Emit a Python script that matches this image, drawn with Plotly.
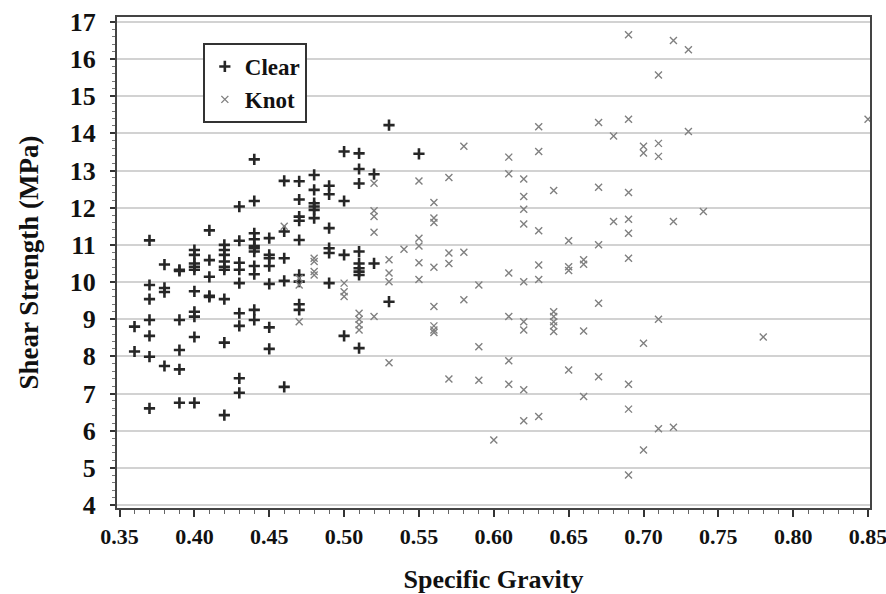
import plotly.graph_objects as go

# ---- data ----
clear_sg = (
    [0.36] * 2 + [0.37] * 7 + [0.38] * 4 + [0.39] * 6 + [0.40] * 10 + [0.41] * 5 +
    [0.42] * 9 + [0.43] * 9 + [0.44] * 11 + [0.45] * 7 + [0.46] * 5 + [0.47] * 9 +
    [0.48] * 6 + [0.49] * 6 + [0.50] * 4 + [0.51] * 9 + [0.52] * 2 + [0.53] * 2 + [0.55]
)
clear_ss = [
    8.80, 8.13,
    11.12, 9.92, 9.54, 8.98, 8.55, 7.99, 6.60,
    10.47, 9.84, 9.73, 7.74,
    10.33, 10.30, 8.98, 8.17, 7.65, 6.75,
    10.86, 10.73, 10.50, 10.41, 10.33, 9.75, 9.20, 9.07, 8.52, 6.75,
    11.39, 10.59, 10.14, 9.63, 9.60,
    11.00, 10.86, 10.73, 10.55, 10.41, 10.33, 9.54, 8.37, 6.42,
    12.03, 11.11, 10.52, 10.33, 9.97, 9.16, 8.82, 7.41, 7.02,
    13.30, 12.18, 11.31, 11.15, 10.97, 10.91, 10.82, 10.43, 10.21, 9.25, 8.98,
    11.18, 10.73, 10.64, 10.43, 9.95, 8.78, 8.20,
    12.72, 11.36, 10.64, 10.03, 7.18,
    12.71, 12.22, 11.76, 11.65, 11.13, 10.19, 10.01, 9.40, 9.25,
    12.88, 12.48, 12.12, 12.03, 11.94, 11.72,
    12.59, 12.36, 11.45, 10.91, 10.78, 9.97,
    13.51, 12.18, 10.73, 8.55,
    13.46, 13.04, 12.65, 10.82, 10.50, 10.37, 10.28, 10.19, 8.22,
    12.90, 10.50,
    14.22, 9.47,
    13.45,
]

knot_sg = (
    [0.46] + [0.47] * 3 + [0.48] * 4 + [0.50] * 3 + [0.51] * 4 + [0.52] * 5 +
    [0.53] * 4 + [0.54] + [0.55] * 5 + [0.56] * 8 + [0.57] * 4 + [0.58] * 3 +
    [0.59] * 3 + [0.60] + [0.61] * 6 + [0.62] * 9 + [0.63] * 6 + [0.64] * 6 +
    [0.65] * 4 + [0.66] * 4 + [0.67] * 5 + [0.68] * 2 + [0.69] * 9 + [0.70] * 4 +
    [0.71] * 5 + [0.72] * 3 + [0.73] * 2 + [0.74] + [0.78] + [0.85]
)
knot_ss = [
    11.50,
    10.10, 9.92, 8.93,
    10.64, 10.55, 10.28, 10.19,
    9.97, 9.74, 9.61,
    9.16, 9.00, 8.85, 8.71,
    12.66, 11.92, 11.76, 11.34, 9.07,
    10.60, 10.24, 10.01, 7.83,
    10.88,
    12.72, 11.18, 10.97, 10.52, 10.07,
    12.14, 11.72, 11.60, 10.40, 9.34, 8.82, 8.71, 8.64,
    12.81, 10.78, 10.50, 7.39,
    13.65, 10.80, 9.52,
    9.92, 8.26, 7.36,
    5.75,
    13.36, 12.91, 10.24, 9.07, 7.88, 7.25,
    12.77, 12.30, 11.96, 11.56, 10.01, 8.93, 8.71, 7.10, 6.27,
    14.18, 13.51, 11.38, 10.46, 10.07, 6.38,
    12.46, 9.20, 9.07, 8.93, 8.82, 8.67,
    11.11, 10.41, 10.31, 7.63,
    10.60, 10.48, 8.68, 6.92,
    14.29, 12.55, 11.00, 9.43, 7.45,
    13.93, 11.63,
    16.65, 14.38, 12.41, 11.69, 11.31, 10.64, 7.25, 6.58, 4.81,
    13.65, 13.47, 8.35, 5.48,
    15.57, 13.73, 13.38, 9.00, 6.05,
    16.50, 11.63, 6.09,
    16.25, 14.05,
    11.90,
    8.52,
    14.38,
]

x_ticks = [0.35, 0.40, 0.45, 0.50, 0.55, 0.60, 0.65, 0.70, 0.75, 0.80, 0.85]
y_ticks = list(range(4, 18))

SERIF = "Liberation Serif, Times New Roman, serif"

fig = go.Figure()
fig.add_trace(go.Scatter(
    x=clear_sg, y=clear_ss, mode="markers", name="Clear",
    marker=dict(symbol="cross-thin", size=8, color="#262626",
                line=dict(color="#262626", width=2.6)),
))
fig.add_trace(go.Scatter(
    x=knot_sg, y=knot_ss, mode="markers", name="Knot",
    marker=dict(symbol="x-thin", size=7, color="#808080",
                line=dict(color="#808080", width=1.4)),
))

fig.update_layout(
    width=886, height=594,
    margin=dict(l=117, r=16, t=17, b=86, autoexpand=False),
    paper_bgcolor="white", plot_bgcolor="white",
    font=dict(family=SERIF, color="#111"),
    showlegend=True,
    legend=dict(
        x=0.114, y=0.947, xanchor="left", yanchor="top",
        bgcolor="white", bordercolor="#333", borderwidth=2,
        font=dict(family=SERIF, size=23, color="#111", weight="bold"),
        tracegroupgap=4,
    ),
)

fig.update_xaxes(
    range=[0.3483, 0.8513], automargin=False,
    tickvals=x_ticks, ticktext=[f"{v:.2f}" for v in x_ticks],
    tickfont=dict(family=SERIF, size=22, color="#111", weight="bold"),
    ticks="outside", ticklen=7, tickwidth=1.5, tickcolor="#333",
    ticklabelstandoff=1, ticklabeloverflow="allow",
    minor=dict(dtick=0.01, tick0=0.35, ticks="outside", ticklen=4,
               tickcolor="#666", tickwidth=1, showgrid=False),
    showgrid=False, zeroline=False,
    showline=True, linecolor="#444", linewidth=2, mirror=True,
    title=dict(text="Specific Gravity", standoff=23,
               font=dict(family=SERIF, size=26, color="#111", weight="bold")),
)
fig.update_yaxes(
    range=[3.92, 17.13], automargin=False,
    tickvals=y_ticks,
    tickfont=dict(family=SERIF, size=26, color="#111", weight="bold"),
    ticks="outside", ticklen=5, tickwidth=1.5, tickcolor="#333",
    ticklabelstandoff=9,
    minor=dict(dtick=0.2, ticks="outside", ticklen=3, tickcolor="#777",
               tickwidth=1, showgrid=False),
    showgrid=True, gridcolor="#d2d2d2", gridwidth=1.5, zeroline=False,
    showline=True, linecolor="#444", linewidth=2, mirror=True,
    title=dict(text="Shear Strength (MPa)", standoff=23,
               font=dict(family=SERIF, size=27, color="#111", weight="bold")),
)

fig.write_html("out.html")
